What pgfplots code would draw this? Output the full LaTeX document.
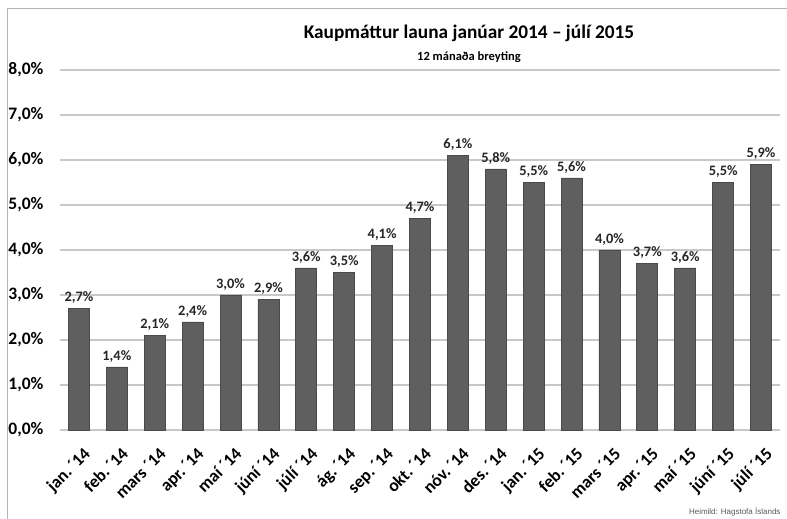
\documentclass[border=0pt]{standalone}
\usepackage{pgfplots}
\pgfplotsset{compat=1.18}
\usepackage{fontspec}
\setmainfont{Carlito}
\newfontfamily\srcfont{Liberation Sans}
\definecolor{barfill}{HTML}{5F5F5F}
\definecolor{baredge}{HTML}{4A4A4A}
\definecolor{gridc}{HTML}{C8C8C8}
\begin{document}
\begin{tikzpicture}[x=1pt,y=1pt]
\path[use as bounding box] (0,0) rectangle (787,519);
\draw[gridc!90!black, line width=1pt] (7,0) -- (7,510) -- (787,510);
\begin{axis}[
  at={(60pt,89pt)}, anchor=south west,
  scale only axis, width=720pt, height=360pt,
  xmin=-0.5, xmax=18.5, ymin=0, ymax=8,
  axis line style={draw=none},
  ytick={0,1,...,8},
  xtick={0,1,...,18},
  major tick length=0pt,
  ymajorgrids, grid style={gridc, line width=1.3pt},
  /pgf/number format/assume math mode=true,
  yticklabel={\pgfmathprintnumber[fixed,fixed zerofill,precision=1,use comma]{\tick}\%},
  yticklabel style={font=\fontsize{17.5}{19}\selectfont\bfseries, anchor=east, xshift=-13pt},
  xticklabels={jan.\,´14,feb.\,´14,mars ´14,apr.\,´14,maí ´14,júní ´14,júlí ´14,ág.\,´14,sep.\,´14,okt.\,´14,nóv.\,´14,des.\,´14,jan.\,´15,feb.\,´15,mars ´15,apr.\,´15,maí ´15,júní ´15,júlí ´15},
  xticklabel style={font=\fontsize{17.5}{19}\selectfont\bfseries, rotate=45, anchor=north east, inner sep=1pt, xshift=-8pt, yshift=-13pt},
  ybar, bar width=21pt,
  nodes near coords={\pgfmathprintnumber[fixed,fixed zerofill,precision=1,use comma]{\pgfplotspointmeta}\%},
  nodes near coords style={font=\fontsize{14.4}{16}\selectfont\bfseries, black!85, yshift=1pt},
  clip=false,
]
\addplot[fill=barfill, draw=baredge, line width=0.8pt] coordinates {
(0,2.7) (1,1.4) (2,2.1) (3,2.4) (4,3.0) (5,2.9) (6,3.6) (7,3.5) (8,4.1) (9,4.7)
(10,6.1) (11,5.8) (12,5.5) (13,5.6) (14,4.0) (15,3.7) (16,3.6) (17,5.5) (18,5.9)
};
\end{axis}
\node[font=\fontsize{19.3}{21}\selectfont\bfseries] at (469,486) {Kaupmáttur launa janúar 2014 – júlí 2015};
\node[font=\fontsize{12.5}{14}\selectfont\bfseries] at (469,462) {12 mánaða breyting};
\node[font=\srcfont\fontsize{8}{9}\selectfont, anchor=east, gray!70!black] at (784,7) {Heimild: Hagstofa Íslands};
\end{tikzpicture}
\end{document}
